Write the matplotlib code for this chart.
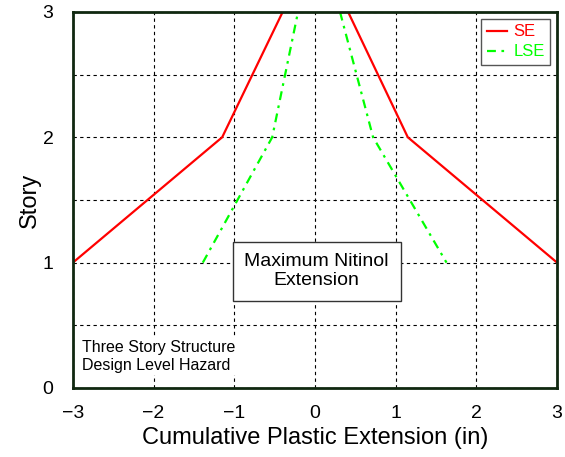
import matplotlib.pyplot as plt
import numpy as np

plt.rcParams['font.family'] = ['Liberation Sans', 'DejaVu Sans']

# SE (left and right branches)
se_left_x = [-3.0, -1.15, -0.40]
se_right_x = [0.41, 1.15, 3.0]
se_left_y = [1, 2, 3]
se_right_y = [3, 2, 1]

# LSE
lse_left_x = [-1.39, -0.53, -0.21]
lse_right_x = [0.31, 0.72, 1.63]
lse_left_y = [1, 2, 3]
lse_right_y = [3, 2, 1]

fig = plt.figure(figsize=(5.65, 4.57), dpi=100)
ax = fig.add_axes([0.129, 0.151, 0.857, 0.823])

ax.plot(se_left_x, se_left_y, color='red', lw=1.6, label='SE')
ax.plot(se_right_x, se_right_y, color='red', lw=1.6)
dashdot = (0, (4, 2.5, 1.2, 2.5))
ax.plot(lse_left_x, lse_left_y, color='#00ff00', lw=1.6, ls=dashdot, label='LSE')
ax.plot(lse_right_x, lse_right_y, color='#00ff00', lw=1.6, ls=dashdot)

ax.set_xlim(-3, 3)
ax.set_ylim(0, 3)
ax.set_xticks(np.arange(-3, 4, 1))
ax.set_yticks([0, 1, 2, 3])
ax.set_yticks([0.5, 1.5, 2.5], minor=True)
ax.set_xticklabels(['\u22123', '\u22122', '\u22121', '0', '1', '2', '3'])
ax.grid(True, which='both', color='black', ls=(0, (3, 3)), lw=0.8)
ax.tick_params(which='both', length=0, labelsize=14)
ax.tick_params(axis='x', pad=12)
ax.tick_params(axis='y', pad=14)
for s in ax.spines.values():
    s.set_color('#102810')
    s.set_linewidth(2)

ax.set_xlabel('Cumulative Plastic Extension (in)', fontsize=17, labelpad=4)
ax.set_ylabel('Story', fontsize=17, labelpad=1)

ax.text(0.02, 0.93, 'Maximum Nitinol\nExtension', ha='center', va='center', fontsize=14,
        linespacing=1.15,
        bbox=dict(boxstyle='square,pad=0.6', fc='white', ec='#333333', lw=1))
ax.text(-2.89, 0.25, 'Three Story Structure\nDesign Level Hazard', ha='left', va='center',
        fontsize=11.5, linespacing=1.3,
        bbox=dict(boxstyle='square,pad=0.1', fc='white', ec='none'))

leg = ax.legend(loc='upper right', fontsize=12, handlelength=1.2, handletextpad=0.4,
                borderpad=0.35, labelspacing=0.3, fancybox=False, framealpha=1,
                borderaxespad=0.4)
leg.get_frame().set_edgecolor('#555555')
for t, c in zip(leg.get_texts(), ['red', '#00ff00']):
    t.set_color(c)

fig.savefig('out.png', dpi=100)
